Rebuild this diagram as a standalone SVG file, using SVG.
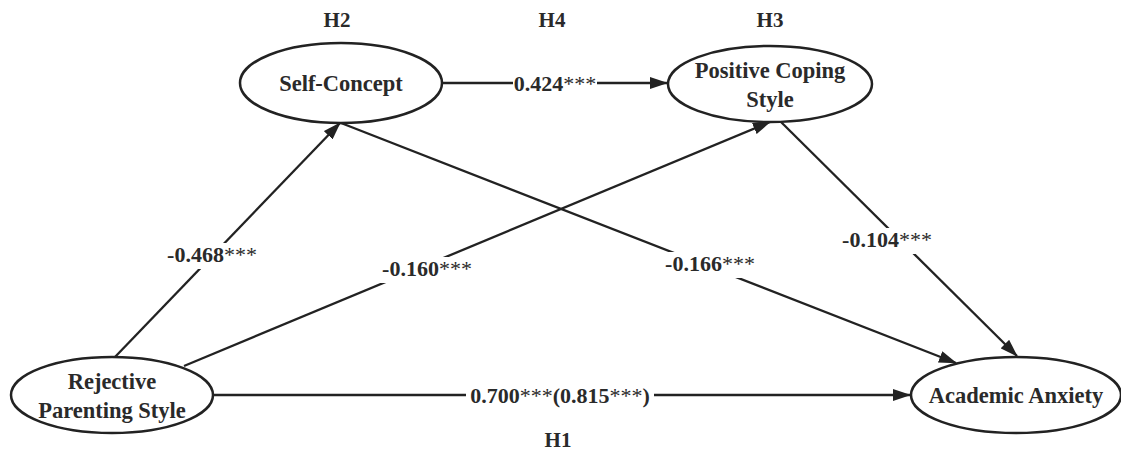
<svg xmlns="http://www.w3.org/2000/svg" width="1121" height="453" viewBox="0 0 1121 453">
  <style>
    .node ellipse { fill: #fff; stroke: #222; stroke-width: 2.5; }
    .node text, .hyp, .coef { font-family: "Liberation Serif", "Times New Roman", serif; font-weight: bold; fill: #2a2a2a; text-anchor: middle; }
    .node text { font-size: 22.5px; }
    .hyp { font-size: 21px; }
    .coef { font-size: 22px; }
    .gap { fill: #fff; }
    .star { font-weight: normal; }
    .edge { stroke: #222; stroke-width: 2.3; fill: none; marker-end: url(#arrow); }
  </style>
  <defs>
    <marker id="arrow" viewBox="0 0 18 12" refX="17" refY="6" markerWidth="18" markerHeight="12" markerUnits="userSpaceOnUse" orient="auto">
      <path d="M0,0 L18,6 L0,12 Z" fill="#222"/>
    </marker>
  </defs>
  <rect width="1121" height="453" fill="#fff"/>

  <g id="connectors">
    <line class="edge" x1="115" y1="357" x2="340" y2="123"/>
    <line class="edge" x1="184" y1="366" x2="770" y2="122"/>
    <line class="edge" x1="341" y1="123" x2="956" y2="363"/>
    <line class="edge" x1="780" y1="121" x2="1017" y2="356"/>
    <line class="edge" x1="213" y1="395" x2="910" y2="395"/>
    <line class="edge" x1="442" y1="83" x2="667" y2="83"/>
  </g>

  <g id="labels">
    <!-- white gaps so the coefficients break their lines -->
    <rect class="gap" x="164" y="243" width="96" height="26"/>
    <rect class="gap" x="379" y="257" width="96" height="26"/>
    <rect class="gap" x="662" y="252" width="96" height="26"/>
    <rect class="gap" x="839" y="228" width="96" height="26"/>
    <rect class="gap" x="513" y="72" width="84" height="24"/>
    <rect class="gap" x="466" y="384" width="188" height="24"/>
    <text class="coef" x="212" y="262">-0.468<tspan class="star">***</tspan></text>
    <text class="coef" x="427" y="276">-0.160<tspan class="star">***</tspan></text>
    <text class="coef" x="710" y="271">-0.166<tspan class="star">***</tspan></text>
    <text class="coef" x="887" y="247">-0.104<tspan class="star">***</tspan></text>
    <text class="coef" x="555" y="91">0.424<tspan class="star">***</tspan></text>
    <text class="coef" x="560" y="403">0.700<tspan class="star">***</tspan>(0.815<tspan class="star">***</tspan>)</text>
    <text class="hyp" x="337" y="27">H2</text>
    <text class="hyp" x="552" y="27">H4</text>
    <text class="hyp" x="770" y="27">H3</text>
    <text class="hyp" x="558" y="447">H1</text>
  </g>

  <g id="self-concept" class="node">
    <ellipse cx="341" cy="83" rx="101" ry="40"/>
    <text x="341" y="91">Self-Concept</text>
  </g>
  <g id="positive-coping-style" class="node">
    <ellipse cx="770" cy="84" rx="102" ry="38"/>
    <text x="770" y="78">Positive Coping</text>
    <text x="770" y="107">Style</text>
  </g>
  <g id="rejective-parenting-style" class="node">
    <ellipse cx="112" cy="395" rx="101" ry="38"/>
    <text x="112" y="389">Rejective</text>
    <text x="112" y="418">Parenting Style</text>
  </g>
  <g id="academic-anxiety" class="node">
    <ellipse cx="1016" cy="395" rx="105" ry="38"/>
    <text x="1016" y="403">Academic Anxiety</text>
  </g>
</svg>
